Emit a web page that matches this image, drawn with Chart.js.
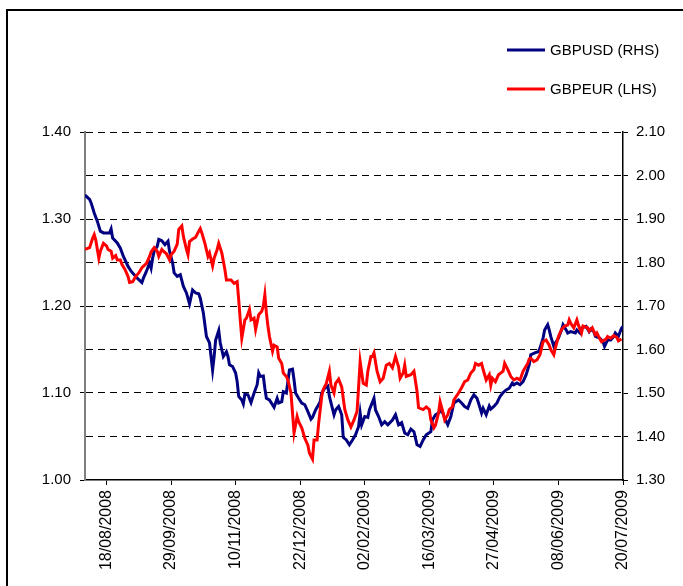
<!DOCTYPE html>
<html>
<head>
<meta charset="utf-8">
<script src="https://cdn.jsdelivr.net/npm/chart.js@4/dist/chart.umd.min.js"></script>
<style>
  html, body { margin: 0; padding: 0; background: #fff; }
  #caja { position: relative; width: 683px; height: 586px; overflow: hidden; }
  #marco { position: absolute; left: 6px; top: 9px; width: 720px; height: 640px;
           border-top: 2px solid #000; border-left: 2px solid #000; }
  #grafico { position: absolute; left: 0; top: 0; }
</style>
</head>
<body>
<div id="caja">
  <div id="marco"></div>
  <canvas id="grafico" width="683" height="586"></canvas>
</div>
<script>
// fecha inicial del eje (dia 0)
const fechaInicio = "04/08/2008";
// etiquetas del eje x
const etiquetasX = ["18/08/2008", "29/09/2008", "10/11/2008", "22/12/2008", "02/02/2009",
  "16/03/2009", "27/04/2009", "08/06/2009", "20/07/2009"];

// GBPUSD (eje derecho): dias desde fechaInicio y valores
const usdDia = [
  0, 3, 4, 6, 8, 10, 12, 16, 17, 18,
  21, 23, 25, 28, 30, 32, 34, 37, 38, 40,
  42, 43, 44, 45, 47, 48, 50, 52, 54, 55,
  57, 58, 60, 62, 64, 66, 68, 70, 72, 74,
  75, 77, 79, 81, 82, 83, 84, 85, 87, 88,
  90, 92, 93, 94, 96, 98, 99, 100, 102, 103,
  104, 106, 108, 110, 112, 113, 114, 116, 117, 118,
  120, 123, 125, 126, 128, 129, 131, 133, 135, 136,
  137, 139, 141, 143, 145, 147, 148, 150, 151, 153,
  154, 156, 158, 159, 162, 163, 165, 167, 168, 170,
  172, 174, 176, 178, 179, 180, 182, 184, 185, 188,
  189, 191, 193, 195, 197, 200, 202, 204, 206, 208,
  210, 212, 214, 216, 218, 220, 222, 225, 226, 228,
  230, 232, 234, 236, 238, 240, 243, 245, 247, 249,
  251, 253, 255, 256, 258, 259, 261, 263, 264, 266,
  268, 270, 272, 274, 276, 278, 279, 281, 283, 285,
  287, 289, 290, 293, 295, 296, 298, 299, 301, 302,
  303, 305, 306, 308, 310, 311, 313, 314, 316, 319,
  320, 322, 323, 326, 328, 329, 331, 332, 335, 337,
  338, 340, 342, 344, 345, 347, 349, 350];
const usdValor = [
  1.955, 1.945, 1.937, 1.914, 1.895, 1.872, 1.868, 1.868, 1.877, 1.856,
  1.845, 1.833, 1.814, 1.791, 1.780, 1.772, 1.764, 1.754, 1.764, 1.780,
  1.799, 1.787, 1.810, 1.826, 1.837, 1.853, 1.850, 1.841, 1.849, 1.826,
  1.799, 1.776, 1.768, 1.772, 1.745, 1.730, 1.705, 1.737, 1.730, 1.728,
  1.718, 1.684, 1.630, 1.615, 1.584, 1.553, 1.584, 1.622, 1.644, 1.615,
  1.584, 1.595, 1.584, 1.565, 1.561, 1.546, 1.526, 1.492, 1.484, 1.475,
  1.497, 1.496, 1.478, 1.500, 1.519, 1.546, 1.538, 1.539, 1.511, 1.488,
  1.484, 1.467, 1.488, 1.477, 1.480, 1.503, 1.500, 1.553, 1.555, 1.530,
  1.500, 1.488, 1.477, 1.473, 1.457, 1.440, 1.444, 1.461, 1.467, 1.480,
  1.500, 1.511, 1.516, 1.492, 1.450, 1.461, 1.469, 1.450, 1.398, 1.392,
  1.381, 1.392, 1.404, 1.423, 1.454, 1.427, 1.446, 1.444, 1.461, 1.488,
  1.461, 1.446, 1.427, 1.434, 1.427, 1.438, 1.450, 1.427, 1.432, 1.408,
  1.404, 1.417, 1.411, 1.381, 1.377, 1.392, 1.404, 1.411, 1.438, 1.450,
  1.454, 1.461, 1.442, 1.427, 1.446, 1.477, 1.484, 1.477, 1.469, 1.465,
  1.484, 1.496, 1.488, 1.477, 1.454, 1.465, 1.450, 1.470, 1.463, 1.469,
  1.477, 1.492, 1.501, 1.507, 1.511, 1.523, 1.519, 1.523, 1.519, 1.526,
  1.542, 1.565, 1.588, 1.593, 1.595, 1.603, 1.626, 1.645, 1.657, 1.645,
  1.630, 1.607, 1.615, 1.626, 1.645, 1.657, 1.645, 1.638, 1.641, 1.638,
  1.645, 1.638, 1.649, 1.653, 1.641, 1.647, 1.641, 1.630, 1.626, 1.618,
  1.607, 1.622, 1.622, 1.630, 1.638, 1.630, 1.649, 1.653];

// GBPEUR (eje izquierdo)
const eurDia = [
  0, 3, 5, 6, 7, 9, 10, 12, 14, 15,
  17, 18, 20, 21, 23, 24, 26, 28, 29, 31,
  33, 35, 37, 40, 42, 43, 45, 47, 48, 50,
  51, 53, 55, 56, 58, 60, 61, 63, 64, 66,
  67, 68, 70, 72, 74, 75, 76, 78, 80, 81,
  83, 84, 86, 87, 89, 91, 92, 95, 97, 99,
  100, 101, 102, 104, 105, 107, 108, 110, 111, 113,
  115, 116, 117, 118, 119, 120, 122, 123, 125, 126,
  128, 129, 131, 132, 134, 135, 136, 138, 139, 141,
  143, 145, 146, 148, 149, 151, 152, 154, 155, 157,
  159, 160, 162, 163, 165, 167, 169, 171, 173, 175,
  177, 178, 179, 181, 183, 184, 186, 187, 188, 190,
  192, 194, 196, 198, 200, 202, 204, 205, 207, 208,
  209, 212, 214, 216, 217, 220, 222, 224, 225, 227,
  228, 230, 231, 233, 234, 236, 237, 239, 240, 243,
  245, 247, 249, 251, 253, 254, 256, 258, 259, 261,
  263, 264, 265, 267, 269, 272, 273, 275, 277, 279,
  281, 283, 285, 288, 289, 290, 292, 294, 296, 298,
  300, 302, 303, 305, 306, 308, 310, 312, 314, 315,
  316, 318, 320, 321, 323, 324, 327, 328, 330, 332,
  333, 335, 336, 339, 340, 342, 344, 346, 347, 349];
const eurValor = [
  1.265, 1.267, 1.278, 1.282, 1.276, 1.255, 1.263, 1.272, 1.269, 1.265,
  1.263, 1.255, 1.258, 1.253, 1.253, 1.248, 1.242, 1.234, 1.227, 1.228,
  1.234, 1.238, 1.244, 1.249, 1.257, 1.262, 1.267, 1.263, 1.257, 1.265,
  1.263, 1.260, 1.253, 1.259, 1.263, 1.271, 1.288, 1.292, 1.280, 1.265,
  1.259, 1.274, 1.277, 1.279, 1.286, 1.289, 1.284, 1.272, 1.257, 1.261,
  1.246, 1.255, 1.265, 1.272, 1.261, 1.242, 1.230, 1.230, 1.226, 1.228,
  1.207, 1.184, 1.163, 1.184, 1.186, 1.196, 1.184, 1.186, 1.173, 1.190,
  1.194, 1.200, 1.213, 1.192, 1.177, 1.165, 1.148, 1.155, 1.153, 1.140,
  1.134, 1.123, 1.119, 1.115, 1.100, 1.077, 1.054, 1.073, 1.067, 1.060,
  1.048, 1.040, 1.031, 1.024, 1.046, 1.046, 1.065, 1.096, 1.104, 1.111,
  1.125, 1.109, 1.100, 1.111, 1.116, 1.107, 1.081, 1.069, 1.061, 1.069,
  1.079, 1.107, 1.136, 1.111, 1.109, 1.125, 1.142, 1.142, 1.146, 1.125,
  1.113, 1.117, 1.132, 1.134, 1.129, 1.142, 1.130, 1.117, 1.123, 1.132,
  1.119, 1.121, 1.125, 1.102, 1.083, 1.081, 1.084, 1.081, 1.069, 1.060,
  1.063, 1.077, 1.090, 1.077, 1.069, 1.075, 1.081, 1.084, 1.092, 1.100,
  1.106, 1.113, 1.115, 1.123, 1.127, 1.134, 1.132, 1.134, 1.127, 1.115,
  1.121, 1.109, 1.117, 1.113, 1.121, 1.125, 1.134, 1.127, 1.119, 1.115,
  1.117, 1.115, 1.125, 1.134, 1.139, 1.140, 1.136, 1.138, 1.144, 1.159,
  1.161, 1.155, 1.150, 1.144, 1.152, 1.165, 1.173, 1.177, 1.178, 1.184,
  1.180, 1.175, 1.184, 1.178, 1.169, 1.177, 1.175, 1.171, 1.175, 1.167,
  1.169, 1.162, 1.159, 1.162, 1.165, 1.163, 1.166, 1.164, 1.160, 1.162];

// convierte dd/mm/aaaa a dias desde fechaInicio
function dias(f) {
  const p = f.split("/");
  const q = fechaInicio.split("/");
  return Math.round((Date.UTC(+p[2], p[1] - 1, +p[0]) - Date.UTC(+q[2], q[1] - 1, +q[0])) / 86400000);
}
const diasX = etiquetasX.map(dias);

const fuente = { family: "'Liberation Sans', Arial, sans-serif", size: 15 };
const transparente = "rgba(0,0,0,0)";

// leyenda dibujada a mano (dos filas arriba a la derecha)
const leyenda = {
  id: "leyenda",
  afterDraw(chart) {
    const ctx = chart.ctx;
    ctx.save();
    chart.data.datasets.forEach(function (ds, i) {
      const y = 50 + i * 39;
      ctx.strokeStyle = ds.borderColor;
      ctx.lineWidth = 3;
      ctx.beginPath();
      ctx.moveTo(507, y);
      ctx.lineTo(545, y);
      ctx.stroke();
      ctx.fillStyle = "#000";
      ctx.font = "15px 'Liberation Sans', Arial, sans-serif";
      ctx.textBaseline = "middle";
      ctx.fillText(ds.label, 550, y + 1);
    });
    ctx.restore();
  }
};

new Chart(document.getElementById("grafico").getContext("2d"), {
  type: "line",
  data: {
    datasets: [
      {
        label: "GBPUSD (RHS)",
        data: usdDia.map((d, i) => ({ x: d, y: usdValor[i] })),
        borderColor: "#000080",
        borderWidth: 3,
        pointRadius: 0,
        yAxisID: "yDer",
        order: 1
      },
      {
        label: "GBPEUR (LHS)",
        data: eurDia.map((d, i) => ({ x: d, y: eurValor[i] })),
        borderColor: "#ff0000",
        borderWidth: 3,
        pointRadius: 0,
        yAxisID: "yIzq",
        order: 0
      }
    ]
  },
  options: {
    responsive: false,
    animation: false,
    devicePixelRatio: 1,
    layout: { padding: { top: 132, left: 0, right: 0, bottom: 0 } },
    plugins: { legend: { display: false }, tooltip: { enabled: false } },
    scales: {
      x: {
        type: "linear",
        min: 0,
        max: diasX[diasX.length - 1],
        afterBuildTicks: (s) => { s.ticks = diasX.map((v) => ({ value: v })); },
        afterFit: (s) => { s.height = 106; },
        ticks: {
          autoSkip: false,
          minRotation: 90,
          maxRotation: 90,
          padding: 5,
          color: "#000",
          font: { family: fuente.family, size: 16 },
          callback: (v) => etiquetasX[diasX.indexOf(v)]
        },
        grid: { drawOnChartArea: false, tickLength: 5, tickColor: "#000" },
        border: { color: "#000", width: 1.5 }
      },
      yIzq: {
        position: "left",
        min: 1.0,
        max: 1.4,
        afterFit: (s) => { s.width = 85; },
        ticks: {
          stepSize: 0.05,
          padding: 9,
          color: "#000",
          font: fuente,
          callback: (v) => (Math.round(v * 100) % 10 === 0 ? v.toFixed(2) : "")
        },
        grid: {
          color: (c) => (c.tick && Math.abs(c.tick.value - 1.0) < 1e-6 ? transparente : "#000"),
          lineWidth: 1,
          tickLength: 5,
          tickColor: (c) => (c.tick && Math.round(c.tick.value * 100) % 10 === 0 ? "#000" : transparente)
        },
        border: { color: "#808080", width: 2, dash: [7, 5] }
      },
      yDer: {
        position: "right",
        min: 1.3,
        max: 2.1,
        afterFit: (s) => { s.width = 60; },
        ticks: {
          stepSize: 0.1,
          padding: 8,
          color: "#000",
          font: fuente,
          callback: (v) => v.toFixed(2)
        },
        grid: { drawOnChartArea: false, tickLength: 5, tickColor: "#000" },
        border: { color: "#000", width: 1.5 }
      }
    }
  },
  plugins: [leyenda]
});
</script>
</body>
</html>
